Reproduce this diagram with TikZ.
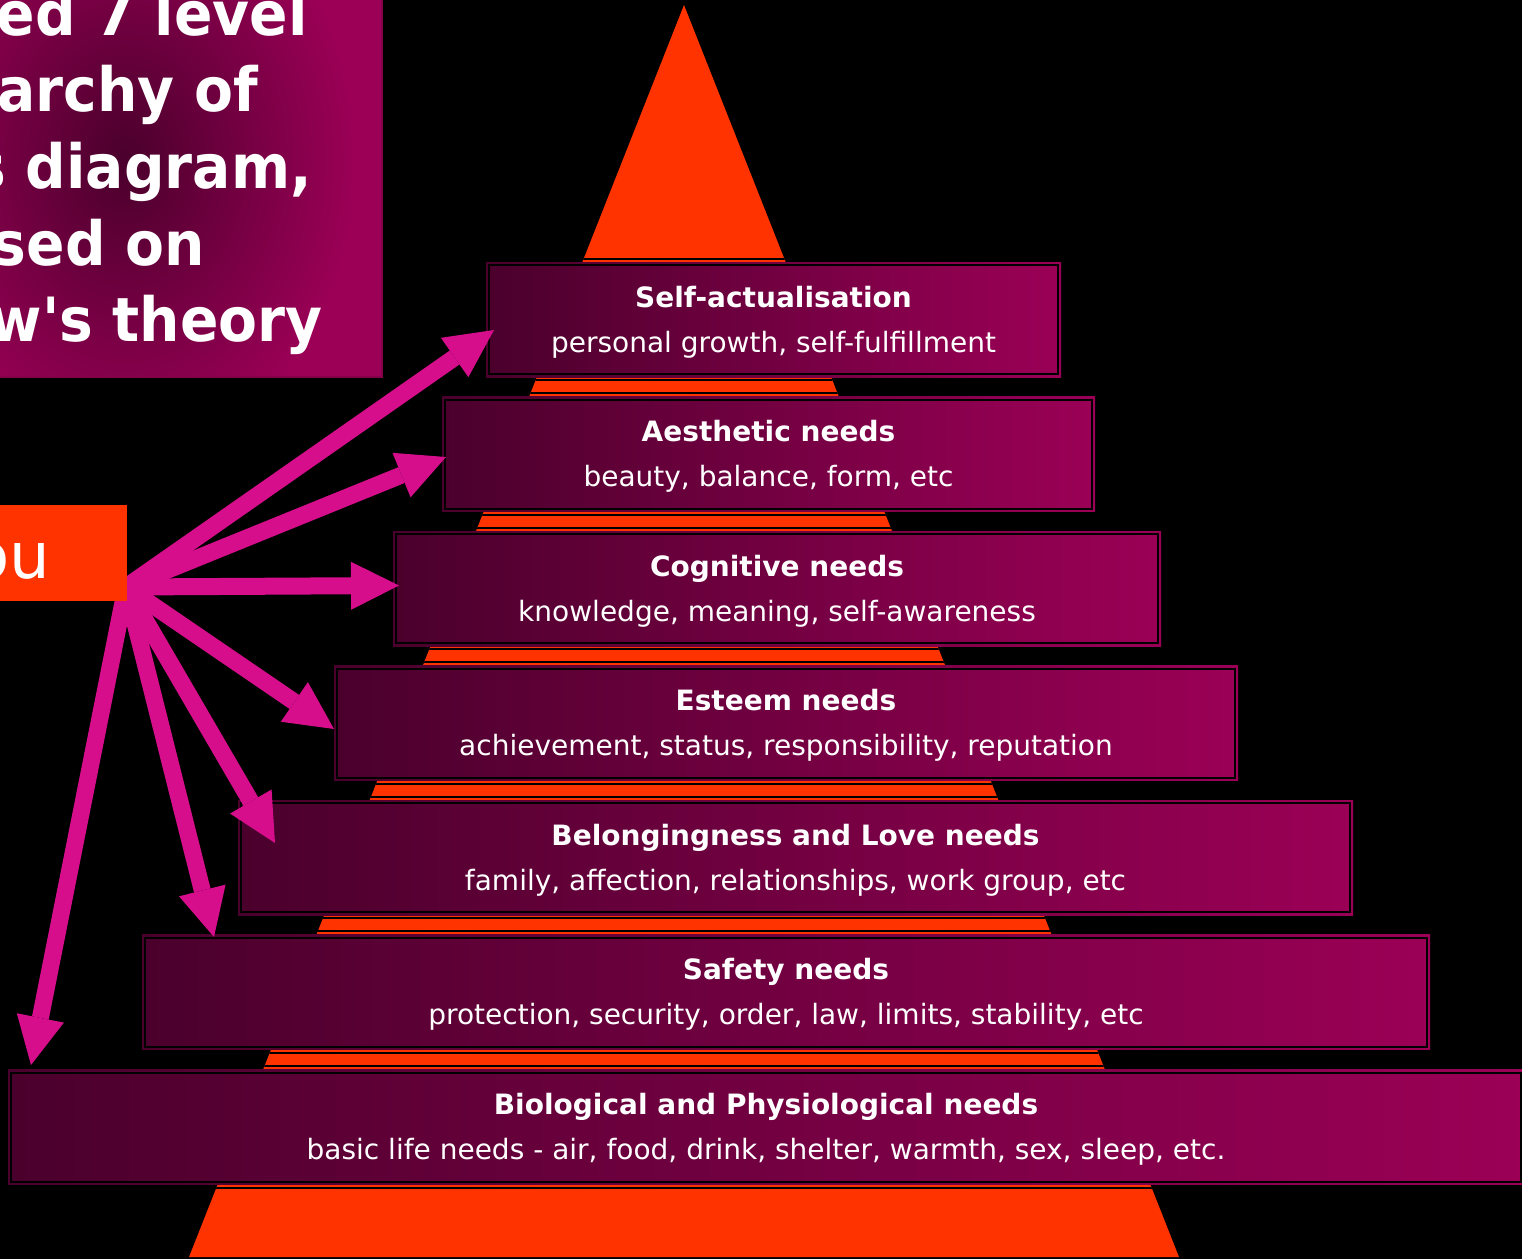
\documentclass[tikz,border=0pt]{standalone}
\usepackage{fontspec}
\setmainfont{DejaVu Sans}
\newfontfamily\titlefont{DejaVu Sans}[FakeStretch=0.93]
\usetikzlibrary{arrows.meta,calc}
\definecolor{pyr}{RGB}{255,51,0}
\definecolor{arrc}{RGB}{214,14,140}
\definecolor{boxL}{RGB}{74,0,44}
\definecolor{boxR}{RGB}{155,0,86}
\begin{document}
\begin{tikzpicture}[x=1pt,y=-1pt,
  lvl/.style={anchor=north west, inner sep=0, outer sep=0, left color=boxL, right color=boxR, minimum height=115},
  ttl/.style={anchor=base, text=white, font=\fontsize{28}{34}\selectfont\bfseries, inner sep=0},
  sub/.style={anchor=base, text=white, font=\fontsize{28}{34}\selectfont, inner sep=0},
  head/.style={anchor=base east, text=white, font=\titlefont\bfseries\fontsize{61}{70}\selectfont, inner sep=0},
  arr/.style={draw=arrc, line width=17, -{Triangle[length=48pt,width=48pt,line width=0pt]}},
  sep/.style={draw=black, line width=2}
]
\useasboundingbox (0,0) rectangle (1522,1259);
\clip (0,0) rectangle (1522,1259);
\fill[black] (0,0) rectangle (1522,1259);

% pyramid
\fill[pyr] (684,5) -- (1179,1257) -- (189,1257) -- cycle;
\begin{scope}
\clip (684,5) -- (1179,1257) -- (189,1257) -- cycle;
\foreach \yy in {258.5,380,393,514.5,527.5,649,662,783.5,796.5,918,931,1052.5,1066,1187.5}
  \draw[sep] (0,\yy) -- (1522,\yy);
\end{scope}

% levels
\foreach \n/\xa/\xb/\yt in {1/486/1061/262, 2/442/1095/396.5, 3/393/1161/531, 4/334/1238/665.5, 5/238/1353/800, 6/142/1430/934.5, 7/8/1524/1069.5}{
  \pgfmathsetmacro{\ww}{\xb-\xa}
  \node[lvl, minimum width=\ww] (b\n) at (\xa,\yt) {};
  \draw[black, line width=2] ($(b\n.north west)+(3,3)$) rectangle ($(b\n.south east)+(-3,-3)$);
}
\foreach \n/\t/\s in {
  1/Self-actualisation/{personal growth, self-fulfillment},
  2/Aesthetic needs/{beauty, balance, form, etc},
  3/Cognitive needs/{knowledge, meaning, self-awareness},
  4/Esteem needs/{achievement, status, responsibility, reputation},
  5/Belongingness and Love needs/{family, affection, relationships, work group, etc},
  6/Safety needs/{protection, security, order, law, limits, stability, etc},
  7/Biological and Physiological needs/{basic life needs - air, food, drink, shelter, warmth, sex, sleep, etc.}}{
  \node[ttl] (t\n) at ($(b\n.north)+(0,45)$) {\t};
  \node[sub] (s\n) at ($(b\n.north)+(0,90)$) {\s};
}

% title box
\fill[boxR] (-140,-40) rectangle (382,377);
\begin{scope}
\clip (-140,-40) rectangle (382,377);
\shade[inner color=boxL, outer color=boxR] (-105,-140) rectangle (355,460);
\end{scope}
\draw[boxR!85!black, line width=1.5] (-140,-40) rectangle (382,377);
\node[head] (h1) at (308,35) {ed 7 level};
\node[head] (h2) at (258,111.7) {archy of};
\node[head] (h3) at (312,188.3) {s diagram,};
\node[head] (h4) at (205,265) {sed on};
\node[head] (h5) at (323,341.7) {w's theory};

% arrows
\coordinate (src) at (126,587);
\coordinate (a1) at (494,330);
\coordinate (a2) at (446,457);
\coordinate (a3) at (399,585.5);
\coordinate (a4) at (334,729);
\coordinate (a5) at (275,843);
\coordinate (a6) at (214,937);
\coordinate (a7) at (31,1065);
\foreach \k in {1,...,7} \draw[arr] (src) -- (a\k);

% you box
\node[fill=pyr, anchor=north west, inner sep=0, minimum width=137, minimum height=96] (youbox) at (-10,505) {};
\node[anchor=base east, text=white, font=\fontsize{64}{70}\selectfont, inner sep=0] (you) at (50,578) {ou};
\end{tikzpicture}
\end{document}
